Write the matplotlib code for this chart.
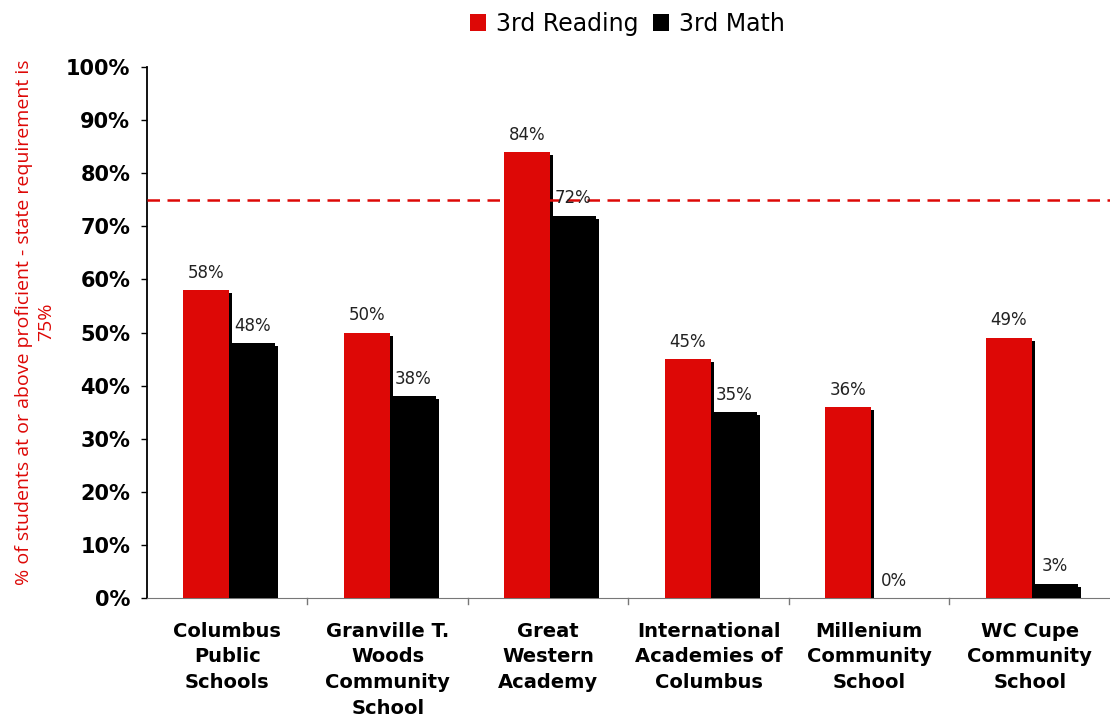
import matplotlib
matplotlib.use("Agg")
import matplotlib.pyplot as plt
import matplotlib.patheffects as pe
from matplotlib.patches import Patch
import numpy as np

categories = ["Columbus\nPublic\nSchools", "Granville T.\nWoods\nCommunity\nSchool",
              "Great\nWestern\nAcademy", "International\nAcademies of\nColumbus",
              "Millenium\nCommunity\nSchool", "WC Cupe\nCommunity\nSchool"]
reading = [58, 50, 84, 45, 36, 49]
math = [48, 38, 72, 35, 0, 2.7]
requirement = 75
yticks = list(range(0, 101, 10))

RED = "#dd0806"

fig = plt.figure(figsize=(11.1, 7.18), dpi=100)
ax = fig.add_axes([0.1324, 0.1671, 0.8676, 0.7396])

x = np.arange(len(categories)) + 0.012
w = 0.287
shadow = [pe.SimplePatchShadow(offset=(2.3, -2.3), shadow_rgbFace="black", alpha=1.0), pe.Normal()]
b1 = ax.bar(x - w / 2, reading, w, color=RED, zorder=3)
b2 = ax.bar(x + w / 2, math, w, color="black", zorder=3)
for b in list(b1) + list(b2):
    b.set_path_effects(shadow)

for bars, vals in ((b1, reading), (b2, math)):
    for b, v in zip(bars, vals):
        ax.annotate(f"{v:.0f}%", (b.get_x() + b.get_width() / 2, v),
                    xytext=(0, 6), textcoords="offset points",
                    ha="center", va="bottom", fontsize=12, color="#222222", zorder=5)

ax.axhline(requirement, color=RED, linestyle=(0, (5, 3)), linewidth=1.8, zorder=4)

ax.set_xlim(-0.5, len(categories) - 0.5)
ax.set_ylim(0, 100)
ax.set_yticks(yticks)
ax.set_yticklabels([f"{t}%" for t in yticks], fontsize=15, fontweight="bold")
ax.tick_params(axis="y", direction="out", length=4, width=1, pad=8)

ax.set_xticks(np.arange(len(categories)))
ax.set_xticklabels(categories, fontsize=14, fontweight="bold", linespacing=1.45, va="top")
ax.tick_params(axis="x", length=0, pad=17)
for xb in np.arange(0.5, len(categories) - 0.5, 1):
    ax.plot([xb, xb], [0, -1.2], color="#777777", linewidth=1, clip_on=False, zorder=2)

for s in ("top", "right"):
    ax.spines[s].set_visible(False)
ax.spines["left"].set_linewidth(1.3)
ax.spines["bottom"].set_color("#777777")

ax.set_ylabel("% of students at or above proficient - state requirement is\n75%",
              color=RED, fontsize=14, family="Open Sans", linespacing=1.3)
ax.yaxis.set_label_coords(-0.095, 0.52)

handles = [Patch(facecolor=RED, label="3rd Reading"), Patch(facecolor="black", label="3rd Math")]
fig.legend(handles=handles, loc="upper center", bbox_to_anchor=(0.565, 1.013), ncol=2,
           frameon=False, fontsize=17, handlelength=0.7, handleheight=0.7,
           handletextpad=0.4, columnspacing=0.6)

fig.savefig("out.png", dpi=100)
